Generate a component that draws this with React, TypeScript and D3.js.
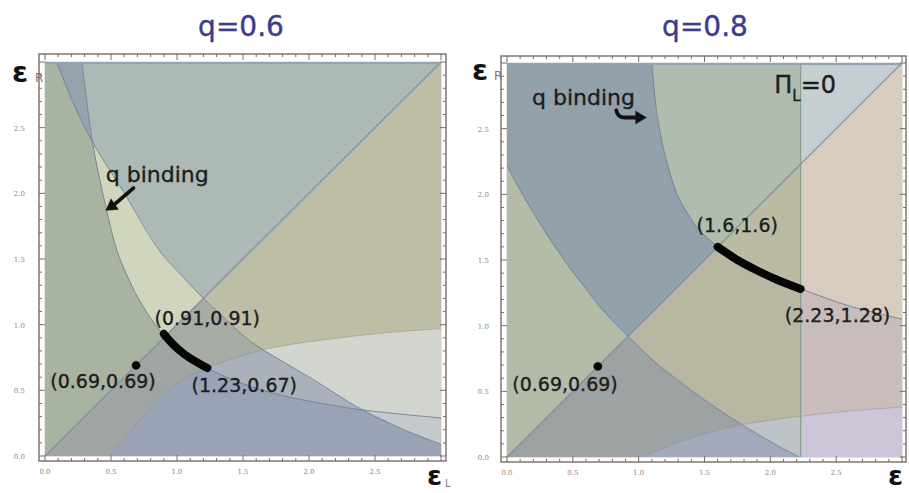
import React from 'react';
import * as d3 from 'd3';

type Pt = [number, number];

// ---- q = 0.6 : boundary curves (εL, εR) ----
const q06A: Pt[] = [[0.28, 3], [0.36, 2.39], [0.46, 1.9], [0.55, 1.55], [0.68, 1.25], [0.8, 1.05], [0.91, 0.91], [1.05, 0.79], [1.23, 0.67], [1.5, 0.55], [1.8, 0.46], [2.1, 0.4], [2.41, 0.35], [3, 0.29]];
const q06B: Pt[] = [[0.09, 3], [0.2, 2.72], [0.36, 2.39], [0.59, 2.02], [0.87, 1.56], [1.04, 1.37], [1.2, 1.2], [1.37, 1.04], [1.56, 0.87], [2.02, 0.59], [2.39, 0.36], [2.72, 0.2], [3, 0.09]];
const q06C: Pt[] = [[0.49, 0], [0.7, 0.25], [0.9, 0.47], [1.05, 0.59], [1.23, 0.67], [1.45, 0.75], [1.7, 0.82], [2.0, 0.87], [2.5, 0.93], [3, 0.97]];
const q06Path: Pt[] = [[0.9, 0.93], [0.97, 0.85], [1.05, 0.78], [1.14, 0.72], [1.23, 0.67]];
const q06Dot: Pt = [0.69, 0.69];

// ---- q = 0.8 ----
const q08P: Pt[] = [[0, 2.22], [0.1, 2.03], [0.2, 1.86], [0.3, 1.7], [0.4, 1.55], [0.5, 1.41], [0.6, 1.28], [0.7, 1.15], [0.81, 1.03], [0.92, 0.92], [1.03, 0.81], [1.15, 0.7], [1.28, 0.6], [1.41, 0.5], [1.55, 0.4], [1.7, 0.3], [1.86, 0.2], [2.03, 0.1], [2.22, 0]];
const q08Q: Pt[] = [[1.1, 3], [1.14, 2.6], [1.2, 2.3], [1.3, 1.98], [1.45, 1.74], [1.6, 1.6], [1.74, 1.49], [1.98, 1.37], [2.23, 1.28], [2.6, 1.15], [3, 1.05]];
const q08S: Pt[] = [[1.03, 0], [1.3, 0.11], [1.55, 0.19], [1.8, 0.25], [2.23, 0.31], [2.6, 0.35], [3, 0.38]];
const q08PiL = 2.23;
const q08Path: Pt[] = [[1.6, 1.6], [1.75, 1.5], [1.9, 1.42], [2.05, 1.35], [2.23, 1.28]];
const q08Dot: Pt = [0.69, 0.69];

const tickValues = [0, 0.5, 1, 1.5, 2, 2.5];
const tickLabels = ['0.0', '0.5', '1.0', '1.5', '2.0', '2.5'];

const diagAbove: Pt[] = [[0, 0], [3, 3], [0, 3]];
const diagBelow: Pt[] = [[0, 0], [3, 0], [3, 3]];

type Layer = { keys: string[]; fill: string };
type Frame = { l: number; r: number; t: number; b: number };

interface PanelProps {
  id: string;
  px: [number, number];
  py: [number, number];
  frame: Frame;
  shapes: Record<string, Pt[]>;
  layers: Layer[];
  lines: { pts: Pt[]; stroke: string; width: number; opacity: number }[];
  yLabelX: number;
  children: (x: d3.ScaleLinear<number, number>, y: d3.ScaleLinear<number, number>) => React.ReactNode;
}

const Panel: React.FC<PanelProps> = ({ id, px, py, frame, shapes, layers, lines, yLabelX, children }) => {
  const x = d3.scaleLinear().domain([0, 3]).range(px);
  const y = d3.scaleLinear().domain([0, 3]).range(py);
  const line = d3.line<Pt>().x(d => x(d[0])).y(d => y(d[1]));
  const smooth = d3.line<Pt>().x(d => x(d[0])).y(d => y(d[1])).curve(d3.curveCatmullRom);
  const poly = (pts: Pt[]) => (line(pts) || '') + 'Z';

  // paint first shape, clipped by every following shape
  const nest = (keys: string[]) => {
    const [first, ...rest] = keys;
    return rest.reduceRight<React.ReactNode>(
      (acc, k) => <g clipPath={`url(#${id}-${k})`}>{acc}</g>,
      <path d={poly(shapes[first])} />
    );
  };

  const minor = d3.range(0, 3.001, 0.1);
  const isMajor = (v: number) => Math.abs(v * 2 - Math.round(v * 2)) < 1e-6;
  const frameColor = '#7a6b66';

  return (
    <g>
      <defs>
        {Object.entries(shapes).map(([k, pts]) => (
          <clipPath id={`${id}-${k}`} key={k}>
            <path d={poly(pts)} />
          </clipPath>
        ))}
        <clipPath id={`${id}-plot`}>
          <rect x={x(0)} y={y(3)} width={x(3) - x(0)} height={y(0) - y(3)} />
        </clipPath>
      </defs>

      {layers.map((l, i) => (
        <g key={i} fill={l.fill} stroke={l.fill} strokeWidth={0.6}>
          {nest(l.keys)}
        </g>
      ))}

      <g clipPath={`url(#${id}-plot)`} fill="none">
        {lines.map((l, i) => (
          <path key={i} d={smooth(l.pts) || ''} stroke={l.stroke} strokeWidth={l.width} strokeOpacity={l.opacity} />
        ))}
        <line x1={x(0)} x2={x(3)} y1={y(3) + 1} y2={y(3) + 1} stroke="#92a3b3" strokeWidth={2} />
      </g>

      {/* frame with inward ticks on all sides */}
      <rect x={frame.l} y={frame.t} width={frame.r - frame.l} height={frame.b - frame.t} fill="none" stroke={frameColor} strokeWidth={1.4} />
      {minor.map((v, i) => {
        const len = isMajor(v) ? 6 : 3;
        return (
          <g key={i} stroke={frameColor} strokeWidth={1}>
            <line x1={x(v)} x2={x(v)} y1={frame.b} y2={frame.b - len} />
            <line x1={x(v)} x2={x(v)} y1={frame.t} y2={frame.t + len} />
            <line y1={y(v)} y2={y(v)} x1={frame.l} x2={frame.l + len} />
            <line y1={y(v)} y2={y(v)} x1={frame.r} x2={frame.r - len} />
          </g>
        );
      })}
      <g fontFamily="DejaVu Serif" fontSize={7} fill="#8a8582">
        {tickValues.map((v, i) => (
          <text key={'x' + i} x={x(v)} y={frame.b + 13} textAnchor="middle">{tickLabels[i]}</text>
        ))}
        {tickValues.map((v, i) => (
          <text key={'y' + i} x={yLabelX} y={y(v) + 3} textAnchor="end">{tickLabels[i]}</text>
        ))}
      </g>
      {children(x, y)}
    </g>
  );
};

const Arrow: React.FC<{ d: string; tip: [number, number]; angle: number }> = ({ d, tip, angle }) => (
  <g>
    <path d={d} fill="none" stroke="#111" strokeWidth={3.8} strokeLinecap="round" />
    <path d="M0,0 L-11,-6.5 L-11,6.5 Z" fill="#111" transform={`translate(${tip[0]},${tip[1]}) rotate(${angle})`} />
  </g>
);

const labelFont = 'DejaVu Sans';

export default function App() {
  const thick = (x: d3.ScaleLinear<number, number>, y: d3.ScaleLinear<number, number>, pts: Pt[]) =>
    d3.line<Pt>().x(d => x(d[0])).y(d => y(d[1])).curve(d3.curveCatmullRom)(pts) || '';

  const lineStyle = (pts: Pt[], stroke: string, width = 1, opacity = 0.85) => ({ pts, stroke, width, opacity });

  return (
    <svg width={909} height={493} style={{ position: 'absolute', left: 0, top: 0, background: '#fff' }}>
      <rect width={909} height={493} fill="#fff" />

      {/* ---------- q = 0.6 ---------- */}
      <text x={241} y={36} textAnchor="middle" fontFamily={labelFont} fontSize={28} fill="#3d3b8e" stroke="#3d3b8e" strokeWidth={0.4}>q=0.6</text>
      <Panel
        id="p06"
        px={[45, 441]}
        py={[456, 62]}
        frame={{ l: 39, r: 446, t: 54, b: 461 }}
        yLabelX={25}
        shapes={{
          above: diagAbove,
          below: diagBelow,
          rA: [...q06A, [3, 3]],
          rB: [...q06B, [3, 3]],
          bC: [...q06C, [3, 0]],
        }}
        layers={[
          { keys: ['above'], fill: '#a9b3a2' },
          { keys: ['rB', 'above'], fill: '#94a3ac' },
          { keys: ['rA', 'above'], fill: '#d0d6bc' },
          { keys: ['rA', 'rB', 'above'], fill: '#acb9b5' },
          { keys: ['below'], fill: '#a0a5a3' },
          { keys: ['bC', 'below'], fill: '#9aa2b6' },
          { keys: ['rA', 'below'], fill: '#a7aca5' },
          { keys: ['rA', 'bC', 'below'], fill: '#aab1ba' },
          { keys: ['rB', 'below'], fill: '#c4c9cb' },
          { keys: ['rB', 'rA', 'below'], fill: '#bebea6' },
          { keys: ['rB', 'rA', 'bC', 'below'], fill: '#d3d5cf' },
        ]}
        lines={[
          lineStyle(q06A, '#6c7b99'),
          lineStyle(q06B, '#6c7b99'),
          lineStyle(q06C, '#8c8e86', 0.8, 0.6),
          lineStyle(diagAbove.slice(0, 2), '#7e8ea2', 1.3, 0.9),
        ]}
      >
        {(x, y) => (
          <g fontFamily={labelFont} fill="#1c1c1c" stroke="#1c1c1c" strokeWidth={0.35}>
            <text x={x(0.46)} y={y(2.09)} fontSize={22}>q binding</text>
            <Arrow d={`M${x(0.67)},${y(2.04)} L${x(0.52)},${y(1.91)}`} tip={[x(0.46), y(1.87)]} angle={145} />
            <path d={thick(x, y, q06Path)} fill="none" stroke="#050505" strokeWidth={8} strokeLinecap="round" />
            <circle cx={x(q06Dot[0])} cy={y(q06Dot[1])} r={4.2} fill="#050505" />
            <text x={x(0.83)} y={y(1.0)} fontSize={19}>(0.91,0.91)</text>
            <text x={x(0.04)} y={y(0.52)} fontSize={19}>(0.69,0.69)</text>
            <text x={x(1.11)} y={y(0.49)} fontSize={19}>(1.23,0.67)</text>
          </g>
        )}
      </Panel>
      <text x={12} y={82} fontFamily={labelFont} fontWeight="bold" fontSize={29} fill="#111">ε</text>
      <text x={35} y={82} fontFamily={labelFont} fontSize={12} fill="#777">R</text>
      <text x={427} y={485} fontFamily={labelFont} fontWeight="bold" fontSize={27} fill="#111">ε</text>
      <text x={445} y={487} fontFamily={labelFont} fontSize={10} fill="#777">L</text>

      {/* ---------- q = 0.8 ---------- */}
      <text x={705} y={36} textAnchor="middle" fontFamily={labelFont} fontSize={28} fill="#3d3b8e" stroke="#3d3b8e" strokeWidth={0.4}>q=0.8</text>
      <Panel
        id="p08"
        px={[507, 902]}
        py={[457, 63]}
        frame={{ l: 501, r: 906, t: 56, b: 462 }}
        yLabelX={489}
        shapes={{
          above: diagAbove,
          below: diagBelow,
          rP: [...q08P, [3, 0], [3, 3], [0, 3]],
          rQ: [...q08Q, [3, 3]],
          bS: [...q08S, [3, 0]],
          rV: [[q08PiL, 0], [3, 0], [3, 3], [q08PiL, 3]],
        }}
        layers={[
          { keys: ['above'], fill: '#b4bca8' },
          { keys: ['rP', 'above'], fill: '#93a2aa' },
          { keys: ['rQ', 'above'], fill: '#b0bcad' },
          { keys: ['rV', 'above'], fill: '#c6ced1' },
          { keys: ['below'], fill: '#9da2a3' },
          { keys: ['bS', 'below'], fill: '#a2a9ba' },
          { keys: ['rP', 'below'], fill: '#b9b6a1' },
          { keys: ['rP', 'bS', 'below'], fill: '#bec4c6' },
          { keys: ['rQ', 'below'], fill: '#bbbba3' },
          { keys: ['rV', 'below'], fill: '#c9bdbb' },
          { keys: ['rV', 'rQ', 'below'], fill: '#d8ccbf' },
          { keys: ['rV', 'bS', 'below'], fill: '#cdc5d8' },
        ]}
        lines={[
          lineStyle(q08P, '#6c7b99'),
          lineStyle(q08Q, '#6c7b99'),
          lineStyle(q08S, '#8c8e96', 0.8, 0.6),
          lineStyle(diagAbove.slice(0, 2), '#7e8ea2', 1.3, 0.9),
          lineStyle([[q08PiL, 0], [q08PiL, 3]], '#7f9a88', 1.2, 0.9),
        ]}
      >
        {(x, y) => (
          <g fontFamily={labelFont} fill="#1c1c1c" stroke="#1c1c1c" strokeWidth={0.35}>
            <text x={x(0.19)} y={y(2.68)} fontSize={22}>q binding</text>
            <Arrow
              d={`M${x(0.83)},${y(2.64)} Q${x(0.84)},${y(2.58)} ${x(0.9)},${y(2.585)} L${x(1.0)},${y(2.585)}`}
              tip={[x(1.06), y(2.585)]}
              angle={0}
            />
            <text x={x(2.03)} y={y(2.77)} fontSize={24}>
              Π<tspan dy={8} fontSize={15}>L</tspan><tspan dy={-8}>=0</tspan>
            </text>
            <path d={thick(x, y, q08Path)} fill="none" stroke="#050505" strokeWidth={8} strokeLinecap="round" />
            <circle cx={x(q08Dot[0])} cy={y(q08Dot[1])} r={4.2} fill="#050505" />
            <text x={x(1.44)} y={y(1.71)} fontSize={19}>(1.6,1.6)</text>
            <text x={x(0.04)} y={y(0.5)} fontSize={19}>(0.69,0.69)</text>
            <text x={x(2.11)} y={y(1.03)} fontSize={19}>(2.23,1.28)</text>
          </g>
        )}
      </Panel>
      <text x={472} y={80} fontFamily={labelFont} fontWeight="bold" fontSize={29} fill="#111">ε</text>
      <text x={494} y={80} fontFamily={labelFont} fontSize={12} fill="#777">R</text>
      <text x={888} y={485} fontFamily={labelFont} fontWeight="bold" fontSize={27} fill="#111">ε</text>
    </svg>
  );
}
